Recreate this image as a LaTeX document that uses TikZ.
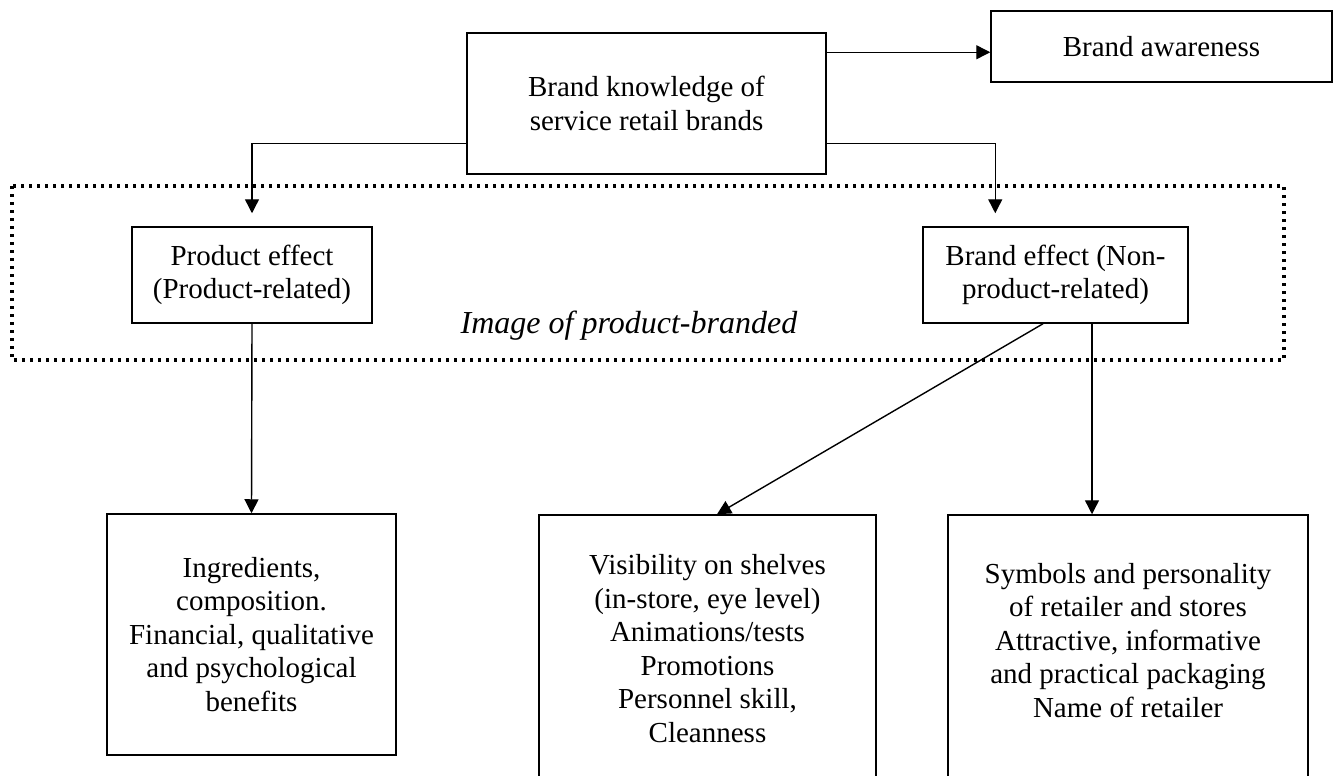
\documentclass[tikz,border=0pt]{standalone}
\usepackage{fontspec}
\setmainfont{Liberation Serif}
\usetikzlibrary{arrows.meta}
\tikzset{
  box/.style={draw, line width=1.5pt, rectangle, inner sep=0pt, align=center, fill=white,
    font=\fontsize{29pt}{33.5pt}\selectfont},
  arr/.style={line width=1.4pt, -{Triangle[length=14pt,width=14pt]}},
  grpline/.style={line width=3.3pt, dash pattern=on 3.3pt off 4.7pt},
  lbl/.style={font=\fontsize{32pt}{36pt}\selectfont\itshape}
}
\begin{document}
\begin{tikzpicture}[x=1pt,y=-1pt]
\useasboundingbox (0,0) rectangle (1336,776);
\clip (0,0) rectangle (1336,776);
% dotted grouping frame
\draw[grpline] (12,186) rectangle (1284,360);
\node[lbl] (img) at (629,326) {Image of product-branded};
% boxes
\node[box, minimum width=359pt, minimum height=141pt] (top) at (646.5,103.5)
  {Brand knowledge of\\service retail brands};
\node[box, minimum width=341pt, minimum height=71pt] (ba) at (1161.5,46.5)
  {Brand awareness};
\node[box, minimum width=240pt, minimum height=96pt] (prod) at (252,275)
  {Product effect\\(Product-related)};
\node[box, minimum width=265pt, minimum height=96pt] (be) at (1055.5,275)
  {Brand effect (Non-\\product-related)};
\node[box, minimum width=289pt, minimum height=241pt] (lb) at (251.5,634.5)
  {Ingredients,\\composition.\\Financial, qualitative\\and psychological\\benefits};
\node[box, minimum width=337pt, minimum height=300pt] (mid) at (707.5,665)
  {Visibility on shelves\\(in-store, eye level)\\Animations/tests\\Promotions\\Personnel skill,\\Cleanness\\\mbox{}};
\node[box, minimum width=360pt, minimum height=300pt] (rb) at (1128,665)
  {Symbols and personality\\of retailer and stores\\Attractive, informative\\and practical packaging\\Name of retailer\\[16.5pt]\mbox{}};
% connectors
\coordinate (topL) at ([yshift=31pt]top.south west);
\coordinate (topR) at ([yshift=31pt]top.south east);
\coordinate (topA) at ([yshift=-20pt]top.north east);
\coordinate (beIn) at ([xshift=73pt]be.north west);
\draw[arr, shorten >=13pt] (topL) -| (prod.north);
\draw[arr, shorten >=13pt] (topR) -| (beIn);
\draw[arr] (topA) -- (topA -| ba.west);
\draw[arr] (prod.south) -- (lb.north);
\draw[arr] ([xshift=-12.5pt]be.south) -- ([xshift=9.5pt]mid.north);
\coordinate (beR) at ([xshift=36.5pt]be.south);
\draw[arr] (beR) -- (beR |- rb.north);
\end{tikzpicture}
\end{document}
